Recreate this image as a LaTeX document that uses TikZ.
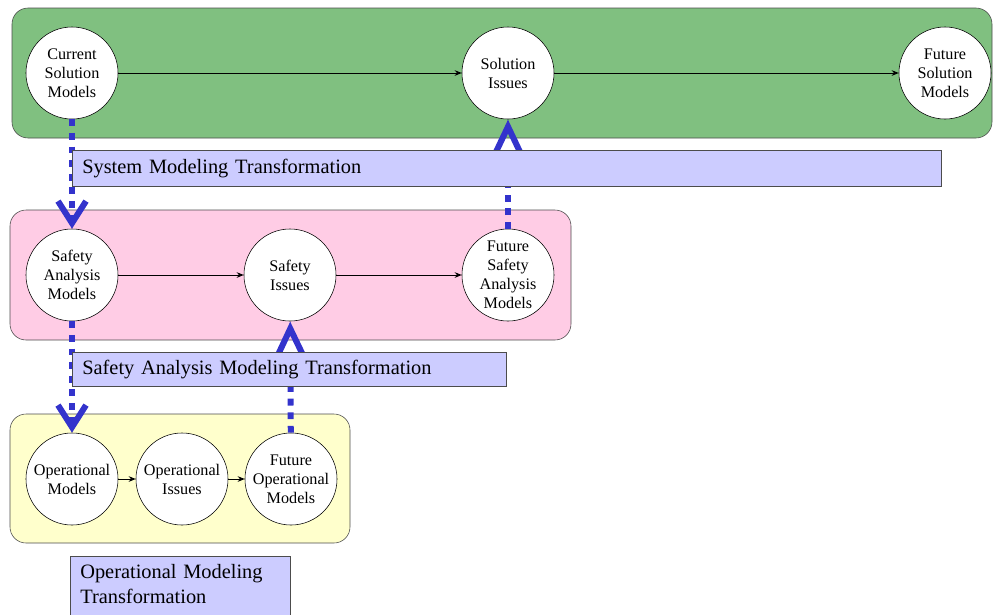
\documentclass[tikz,border=0pt]{standalone}
\usepackage{fontspec}
\setmainfont{Liberation Serif}
\usetikzlibrary{arrows.meta,positioning}

\definecolor{solgreen}{RGB}{128,192,128}
\definecolor{safpink}{RGB}{255,204,229}
\definecolor{opyellow}{RGB}{255,255,204}
\definecolor{translav}{RGB}{204,204,255}
\definecolor{transblue}{RGB}{51,51,204}

\begin{document}
\begin{tikzpicture}[x=0.025cm, y=-0.025cm,
    stage/.style = {shape=circle, draw, fill=white, inner sep=0pt, minimum size=2.3cm,
      align=center, font=\fontsize{11.5}{13.5}\selectfont},
    panel/.style = {draw=black!70, rounded corners=0.4cm},
    flow/.style = {-{Stealth[length=5pt,width=4pt]}, semithick},
    transfer/.style = {draw=transblue, line width=0.15cm, dash pattern=on 0.17cm off 0.17cm},
    down/.style = {-{Straight Barb[length=0.55cm,width=0.7cm]}},
    up/.style = {-{Triangle[open,length=0.95cm,width=0.85cm]}},
    transbox/.style = {draw=black!70, fill=translav, anchor=north west, inner xsep=0.25cm,
      align=left, font=\fontsize{14.5}{17.5}\selectfont}]
  \useasboundingbox (0,0) rectangle (994,614);

  % panels
  \filldraw[panel, fill=solgreen] (12,8) rectangle (992,138);
  \filldraw[panel, fill=safpink] (10,210) rectangle (571,340);
  \filldraw[panel, fill=opyellow] (10,414) rectangle (350,543);

  % solution level
  \node[stage] (cur) at (72,73) {Current\\Solution\\Models};
  \node[stage] (sol) at (508,73) {Solution\\Issues};
  \node[stage] (fsol) at (945,73) {Future\\Solution\\Models};
  \draw[flow] (cur) -- (sol);
  \draw[flow] (sol) -- (fsol);

  % safety level
  \node[stage] (saf) at (72,275) {Safety\\Analysis\\Models};
  \node[stage] (sis) at (290,275) {Safety\\Issues};
  \node[stage] (fsaf) at (508,275) {Future\\Safety\\Analysis\\Models};
  \draw[flow] (saf) -- (sis);
  \draw[flow] (sis) -- (fsaf);

  % operational level
  \node[stage] (opm) at (72,479) {Operational\\Models};
  \node[stage] (opi) at (182,479) {Operational\\Issues};
  \node[stage] (fop) at (291,479) {Future\\Operational\\Models};
  \draw[flow] (opm) -- (opi);
  \draw[flow] (opi) -- (fop);

  % transformations
  \draw[transfer, down] (cur) -- (saf);
  \draw[transfer, down] (saf) -- (opm);
  \draw[transfer, up] (fsaf) -- (sol);
  \draw[transfer, up] (fop) -- (sis);

  \node[transbox, text width=21.225cm, minimum height=0.9cm] (systr) at (72,150)
    {System Modeling Transformation};
  \node[transbox, text width=10.35cm, minimum height=0.85cm] (saftr) at (72,352)
    {Safety Analysis Modeling Transformation};
  \node[transbox, text width=5cm, inner ysep=0.2cm, text depth=1cm] (optr) at (70,556)
    {Operational Modeling\\Transformation};
\end{tikzpicture}
\end{document}
